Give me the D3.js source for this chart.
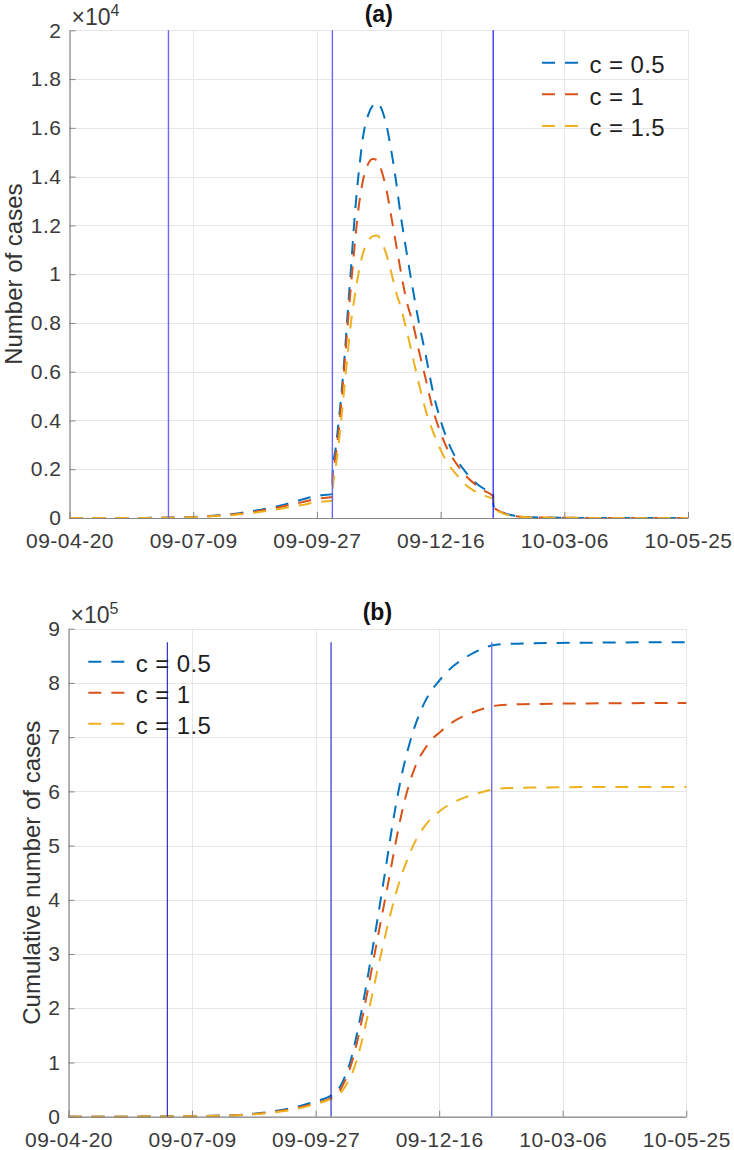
<!DOCTYPE html>
<html><head><meta charset="utf-8">
<script src="https://cdn.jsdelivr.net/npm/d3@7"></script>
<style>
body{margin:0;background:#fff}
svg{display:block}
text{font-family:"Liberation Sans",Arial,Helvetica,sans-serif}
</style></head><body>
<svg id="c" width="734" height="1150"></svg>
<script>
// ---------- data ----------
const startDate = "2009-04-20";
const endDate = "2010-05-25";
const xTickDates = ["2009-04-20","2009-07-09","2009-09-27","2009-12-16","2010-03-06","2010-05-25"];
const xTickLabels = ["09-04-20","09-07-09","09-09-27","09-12-16","10-03-06","10-05-25"];
const seriesNames = ["c = 0.5","c = 1","c = 1.5"];
const vlineDays = [64, 170, 274];

// panel (a): daily number of cases, in units of 10^4
const yTicksA = [0,0.2,0.4,0.6,0.8,1,1.2,1.4,1.6,1.8,2];
const daysA = [0,30,50,60,70,80,90,100,110,120,130,140,150,160,170,170.3,172,174,176,178,180,182,184,186,188,190,193,196,199,202,205,208,211,214,218,222,226,230,235,240,245,250,256,262,268,273.9,274.2,278,282,286,292,300,320,350,400];
const casesA_c05 = [0,0,0.0005,0.001,0.002,0.004,0.008,0.013,0.02,0.03,0.042,0.057,0.075,0.091,0.098,0.2,0.28,0.39,0.52,0.67,0.85,1.02,1.2,1.35,1.47,1.57,1.65,1.69,1.702,1.675,1.61,1.51,1.39,1.25,1.09,0.94,0.80,0.68,0.52,0.40,0.31,0.245,0.19,0.148,0.12,0.101,0.05,0.03,0.018,0.011,0.006,0.003,0.001,0,0];
const casesA_c1  = [0,0,0.0004,0.0009,0.0018,0.0035,0.007,0.011,0.017,0.026,0.037,0.05,0.064,0.079,0.086,0.17,0.25,0.35,0.49,0.64,0.80,0.95,1.09,1.22,1.32,1.39,1.45,1.472,1.468,1.42,1.345,1.24,1.13,1.02,0.89,0.80,0.685,0.58,0.445,0.35,0.275,0.225,0.175,0.14,0.113,0.09,0.047,0.028,0.017,0.01,0.005,0.003,0.001,0,0];
const casesA_c15 = [0,0,0.0003,0.0007,0.0014,0.003,0.006,0.0095,0.015,0.022,0.031,0.042,0.053,0.065,0.071,0.12,0.2,0.3,0.42,0.55,0.68,0.8,0.89,0.97,1.04,1.09,1.135,1.155,1.158,1.13,1.08,1.01,0.93,0.87,0.77,0.66,0.55,0.45,0.355,0.28,0.22,0.18,0.137,0.11,0.092,0.078,0.04,0.025,0.015,0.009,0.005,0.002,0.001,0,0];

// panel (b): cumulative number of cases, in units of 10^5
const yTicksB = [0,1,2,3,4,5,6,7,8,9];
const daysB = [0,40,60,80,100,110,120,130,140,150,160,170,173,176,179,182,185,188,191,194,197,200,203,206,209,212,215,218,221,224,228,232,236,240,245,250,256,262,268,274,285,300,350,400];
const cumB_c05 = [0,0.001,0.004,0.01,0.022,0.033,0.056,0.088,0.135,0.2,0.285,0.39,0.45,0.56,0.74,0.97,1.3,1.7,2.14,2.62,3.12,3.63,4.16,4.7,5.25,5.75,6.2,6.58,6.9,7.18,7.48,7.72,7.9,8.04,8.2,8.33,8.45,8.55,8.63,8.69,8.72,8.73,8.745,8.75];
const cumB_c1  = [0,0.001,0.0035,0.009,0.019,0.029,0.049,0.077,0.118,0.175,0.25,0.345,0.4,0.5,0.66,0.87,1.16,1.52,1.93,2.37,2.82,3.27,3.72,4.16,4.62,5.08,5.5,5.87,6.17,6.42,6.66,6.84,6.98,7.08,7.2,7.3,7.39,7.46,7.52,7.57,7.6,7.61,7.625,7.63];
const cumB_c15 = [0,0.001,0.003,0.008,0.017,0.026,0.044,0.07,0.105,0.16,0.235,0.326,0.37,0.44,0.55,0.7,0.9,1.18,1.52,1.9,2.3,2.7,3.08,3.45,3.8,4.12,4.4,4.64,4.86,5.05,5.25,5.41,5.53,5.63,5.73,5.81,5.88,5.94,5.99,6.03,6.06,6.07,6.08,6.08];

// ---------- styles ----------
const colors = ["#0072BD","#D95319","#EDB120"];
const parse = d3.utcParse("%Y-%m-%d");
const t0 = parse(startDate), t1 = parse(endDate);
const dayToDate = d => new Date(t0.getTime() + d*86400000);
const svg = d3.select("#c");

function panel(o){
  const g = svg.append("g");
  const x = d3.scaleUtc().domain([t0,t1]).range([o.left,o.right]);
  const y = d3.scaleLinear().domain([0,o.yMax]).range([o.bottom,o.top]);
  const tickDates = xTickDates.map(parse);

  // grid
  g.append("g").selectAll("line").data(tickDates).join("line")
    .attr("x1",d=>Math.round(x(d))+0.5).attr("x2",d=>Math.round(x(d))+0.5)
    .attr("y1",o.top).attr("y2",o.bottom)
    .attr("stroke","#e6e6e6").attr("stroke-width",1);
  g.append("g").selectAll("line").data(o.yTicks).join("line")
    .attr("y1",d=>Math.round(y(d))+0.5).attr("y2",d=>Math.round(y(d))+0.5)
    .attr("x1",o.left).attr("x2",o.right)
    .attr("stroke","#e6e6e6").attr("stroke-width",1);

  // curves
  const line = d3.line().x((d,i)=>x(dayToDate(o.days[i]))).y(d=>y(d)).curve(d3.curveMonotoneX);
  o.series.forEach((s,k)=>{
    g.append("path").attr("d",line(s)).attr("fill","none")
      .attr("stroke",colors[k]).attr("stroke-width",2)
      .attr("stroke-dasharray","13,10");
  });

  // vertical lines
  vlineDays.forEach((d,k)=>{
    const xx = x(dayToDate(d));
    g.append("line").attr("x1",xx).attr("x2",xx)
      .attr("y1",y(o.vTop)).attr("y2",o.bottom)
      .attr("stroke",o.vColors[k]).attr("stroke-width",o.vWidths[k]);
  });

  // axes
  const ax = d3.axisBottom(x).tickValues(tickDates).tickFormat((d,i)=>xTickLabels[i])
    .tickSizeInner(-6).tickSizeOuter(0).tickPadding(15);
  const ay = d3.axisLeft(y).tickValues(o.yTicks).tickFormat(d3.format("~g"))
    .tickSizeInner(-6).tickSizeOuter(0).tickPadding(8);
  const gx = g.append("g").attr("transform",`translate(0,${o.bottom})`).call(ax);
  const gy = g.append("g").attr("transform",`translate(${o.left},0)`).call(ay);
  [gx,gy].forEach(a=>{
    a.select(".domain").attr("stroke","#858585").attr("stroke-width",1.2);
    a.selectAll(".tick line").attr("stroke","#858585");
    a.selectAll("text").attr("fill","#3a3a3a").attr("font-size",21)
      .attr("font-family","Liberation Sans, Arial, sans-serif").style("letter-spacing","0.5px");
  });

  // exponent
  const ex = g.append("text").attr("x",o.left+2).attr("y",o.top-5.5)
    .attr("fill","#3a3a3a").attr("font-size",23);
  ex.append("tspan").text("\u00d710");
  ex.append("tspan").attr("dy",-9).attr("font-size",16).text(o.expo);

  // title
  g.append("text").attr("x",(o.left+o.right)/2).attr("y",o.top-8.5)
    .attr("text-anchor","middle").attr("font-weight","bold").attr("font-size",23)
    .attr("fill","#111").text(o.title);

  // y label
  g.append("text").attr("transform",`translate(${o.ylabX},${(o.top+o.bottom)/2}) rotate(-90)`)
    .attr("text-anchor","middle").attr("font-size",24).attr("fill","#333").text(o.ylabel);

  // legend
  seriesNames.forEach((n,k)=>{
    const ly = o.legY + k*o.legStep;
    g.append("line").attr("x1",o.legX).attr("x2",o.legX+36.5).attr("y1",ly).attr("y2",ly)
      .attr("stroke",colors[k]).attr("stroke-width",2).attr("stroke-dasharray","13,10");
    g.append("text").attr("x",o.legX+47.5).attr("y",ly+10.5).attr("font-size",24)
      .attr("fill","#1e1e1e").style("letter-spacing","0.4px").text(n);
  });
}

panel({left:69.5,right:688,top:30.3,bottom:518,yMax:2,yTicks:yTicksA,
  days:daysA,series:[casesA_c05,casesA_c1,casesA_c15],
  vTop:2,vColors:["#6868ff","#6868ff","#0000ff"],vWidths:[1.4,1.4,1.1],
  expo:"4",title:"(a)",ylabel:"Number of cases",ylabX:22,
  legX:542,legY:62.7,legStep:31.6});

panel({left:68.5,right:686.3,top:628.7,bottom:1116.7,yMax:9,yTicks:yTicksB,
  days:daysB,series:[cumB_c05,cumB_c1,cumB_c15],
  vTop:8.75,vColors:["#1c1cc0","#1c1cc0","#7070ff"],vWidths:[1.1,1.1,1.4],
  expo:"5",title:"(b)",ylabel:"Cumulative number of cases",ylabX:40,
  legX:88.3,legY:661.7,legStep:31});
</script>
</body></html>
